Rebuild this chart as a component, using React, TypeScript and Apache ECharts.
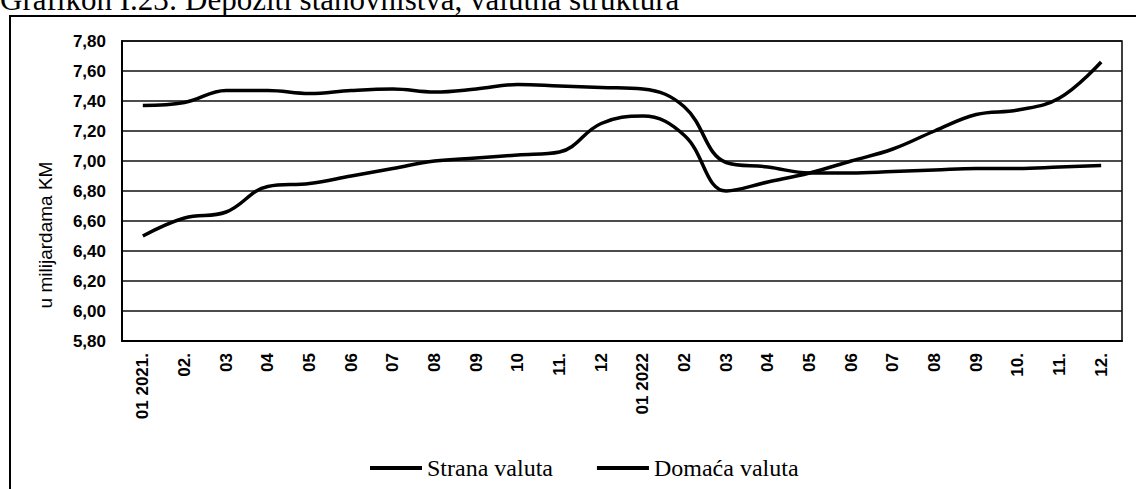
import React, { useEffect, useRef } from "react";
import * as echarts from "echarts";

const categories = [
  "01 2021.", "02.", "03", "04", "05", "06", "07", "08", "09", "10", "11.", "12",
  "01 2022", "02", "03", "04", "05", "06", "07", "08", "09", "10.", "11.", "12.",
];

const stranaValuta = [
  7.37, 7.39, 7.47, 7.47, 7.45, 7.47, 7.48, 7.46, 7.48, 7.51, 7.5, 7.49,
  7.48, 7.36, 6.99, 6.96, 6.92, 6.92, 6.93, 6.94, 6.95, 6.95, 6.96, 6.97,
];

const domacaValuta = [
  6.5, 6.62, 6.66, 6.83, 6.85, 6.9, 6.95, 7.0, 7.02, 7.04, 7.06, 7.25,
  7.3, 7.17, 6.8, 6.86, 6.92, 7.0, 7.08, 7.2, 7.31, 7.34, 7.42, 7.66,
];

const titleText = "Grafikon I.23: Depoziti stanovništva, valutna struktura";
const yAxisName = "u milijardama KM";
const seriesNames = ["Strana valuta", "Domaća valuta"];

export default function App() {
  const ref = useRef<HTMLDivElement>(null);
  useEffect(() => {
    if (!ref.current) return;
    const chart = echarts.init(ref.current, undefined, { renderer: "svg" });
    chart.setOption({
      animation: false,
      backgroundColor: "#fff",
      grid: {
        left: 122,
        right: 14,
        top: 41,
        bottom: 148,
        show: true,
        borderColor: "#000",
        borderWidth: 1.5,
        backgroundColor: "transparent",
      },
      legend: {
        left: 365,
        top: 451,
        icon: "rect",
        itemWidth: 52,
        itemHeight: 4,
        itemGap: 44,
        textStyle: {
          fontFamily: "Liberation Serif",
          fontSize: 24,
          color: "#000",
        },
        data: seriesNames,
      },
      xAxis: {
        type: "category",
        data: categories,
        boundaryGap: true,
        axisLine: { lineStyle: { color: "#000", width: 2 } },
        axisTick: { show: false },
        axisLabel: {
          rotate: 90,
          margin: 12,
          interval: 0,
          color: "#000",
          fontFamily: "Liberation Sans",
          fontWeight: "bold",
          fontSize: 17,
        },
      },
      yAxis: {
        type: "value",
        min: 5.8,
        max: 7.8,
        interval: 0.2,
        axisLine: { show: true, lineStyle: { color: "#000", width: 2 } },
        axisTick: { show: false },
        splitLine: { lineStyle: { color: "#111", width: 1.5 } },
        axisLabel: {
          margin: 16,
          color: "#000",
          fontFamily: "Liberation Sans",
          fontWeight: "bold",
          fontSize: 17,
          formatter: (v: number) => v.toFixed(2).replace(".", ","),
        },
      },
      graphic: [
        {
          type: "rect",
          shape: { x: 10, y: 16, width: 1200, height: 600 },
          style: { fill: "none", stroke: "#000", lineWidth: 2 },
          silent: true,
        },
        {
          type: "text",
          x: 0,
          y: -1,
          style: {
            text: titleText,
            fontFamily: "Liberation Serif",
            fontSize: 31,
            fill: "#000",
            verticalAlign: "middle",
          },
        },
        {
          type: "text",
          x: 45,
          y: 235,
          rotation: Math.PI / 2,
          style: {
            text: yAxisName,
            fontFamily: "Liberation Sans",
            fontSize: 19,
            fill: "#000",
            align: "center",
            verticalAlign: "middle",
          },
        },
      ],
      series: [
        {
          name: seriesNames[0],
          type: "line",
          data: stranaValuta,
          smooth: 0.4,
          symbol: "none",
          lineStyle: { color: "#000", width: 3.5 },
          itemStyle: { color: "#000" },
        },
        {
          name: seriesNames[1],
          type: "line",
          data: domacaValuta,
          smooth: 0.4,
          symbol: "none",
          lineStyle: { color: "#000", width: 3.5 },
          itemStyle: { color: "#000" },
        },
      ],
    });
    return () => chart.dispose();
  }, []);
  return (
    <div
      ref={ref}
      style={{ position: "absolute", left: 0, top: 0, width: 1136, height: 489 }}
    />
  );
}
